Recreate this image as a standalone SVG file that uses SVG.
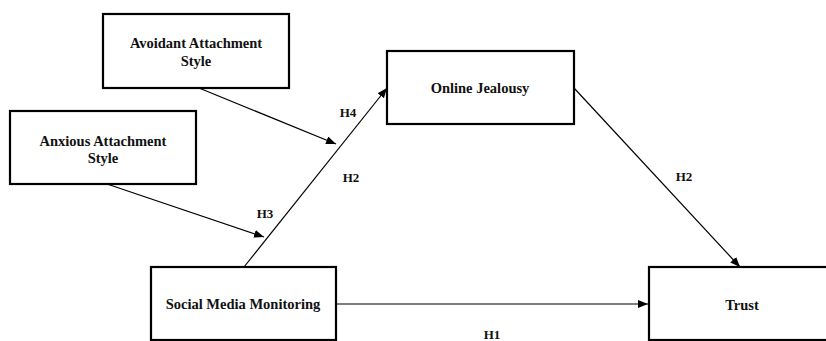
<svg xmlns="http://www.w3.org/2000/svg" width="826" height="341" viewBox="0 0 826 341">
<defs>
<style>
.box{fill:#fff;stroke:#000;stroke-width:2.2}
.lbl{font-family:"Liberation Serif","Times New Roman",serif;font-weight:bold;font-size:14.5px;fill:#111;text-anchor:middle}
.hl{font-family:"Liberation Serif","Times New Roman",serif;font-weight:bold;font-size:13px;fill:#111;text-anchor:middle}
.edge{stroke:#000;stroke-width:1.2;fill:none;marker-end:url(#ah)}
</style>
<marker id="ah" viewBox="0 0 10 8" refX="10" refY="4" markerWidth="10" markerHeight="8" markerUnits="userSpaceOnUse" orient="auto">
<path d="M0,0 L10,4 L0,8 Z" fill="#000"/>
</marker>
</defs>
<rect width="826" height="341" fill="#fff"/>
<g id="connectors">
<line class="edge" x1="199" y1="88" x2="336" y2="144"/>
<line class="edge" x1="107" y1="184" x2="264" y2="237"/>
<line class="edge" x1="244" y1="267" x2="387" y2="88"/>
<line class="edge" x1="574" y1="88" x2="740" y2="267"/>
<line class="edge" x1="337" y1="304" x2="648" y2="304"/>
<text class="hl" x="348" y="117">H4</text>
<text class="hl" x="351" y="182">H2</text>
<text class="hl" x="265" y="218">H3</text>
<text class="hl" x="684" y="181">H2</text>
<text class="hl" x="492" y="339">H1</text>
</g>
<g id="avoidant">
<rect class="box" x="103" y="14" width="186" height="74"/>
<text class="lbl" x="196" y="48">Avoidant Attachment</text>
<text class="lbl" x="196" y="66">Style</text>
</g>
<g id="anxious">
<rect class="box" x="10" y="111" width="186" height="73"/>
<text class="lbl" x="103" y="146">Anxious Attachment</text>
<text class="lbl" x="103" y="163">Style</text>
</g>
<g id="jealousy">
<rect class="box" x="387" y="51" width="187" height="73"/>
<text class="lbl" x="480" y="93">Online Jealousy</text>
</g>
<g id="smm">
<rect class="box" x="151" y="267" width="185" height="73"/>
<text class="lbl" x="243" y="309">Social Media Monitoring</text>
</g>
<g id="trust">
<rect class="box" x="649" y="267" width="187" height="73"/>
<text class="lbl" x="742" y="310">Trust</text>
</g>
</svg>
